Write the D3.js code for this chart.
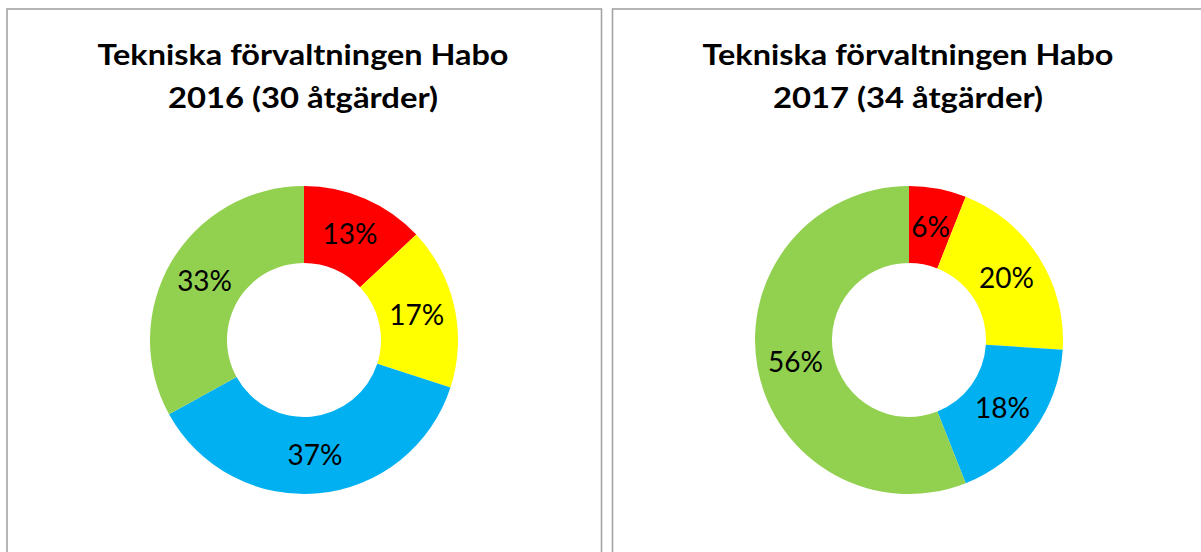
<!DOCTYPE html>
<html>
<head>
<meta charset="utf-8">
<script src="https://cdn.jsdelivr.net/npm/d3@7"></script>
<style>
  html, body { margin: 0; padding: 0; background: #fff; }
  svg { display: block; }
</style>
</head>
<body>
<svg id="chart" width="1201" height="552"></svg>
<script>
// ---- data ----
const categories = ["Röd", "Gul", "Blå", "Grön"];
const colors = ["#FF0000", "#FFFF00", "#00B0F0", "#92D050"];
const titles2016 = ["Tekniska förvaltningen Habo", "2016 (30 åtgärder)"];
const titles2017 = ["Tekniska förvaltningen Habo", "2017 (34 åtgärder)"];
const values2016 = [13, 17, 37, 33];   // percent
const values2017 = [6, 20, 18, 56];    // percent

const svg = d3.select("#chart");

const panels = [
  { x0: 7, x1: 601.5, titles: titles2016, values: values2016, cx: 304 },
  { x0: 612.5, x1: 1210, titles: titles2017, values: values2017, cx: 909 }
];
const titleWidths = [411, 270];

const color = d3.scaleOrdinal().domain(categories).range(colors);
const pie = d3.pie().value(d => d.v).sort(null);
const outerR = 154, innerR = 77, cy = 340;
const arc = d3.arc().innerRadius(innerR).outerRadius(outerR);
const labelArc = d3.arc().innerRadius((innerR + outerR) / 2).outerRadius((innerR + outerR) / 2);

panels.forEach(p => {
  const g = svg.append("g");
  g.append("rect")
    .attr("x", p.x0).attr("y", 9)
    .attr("width", p.x1 - p.x0).attr("height", 600)
    .attr("fill", "#fff")
    .attr("stroke", "#a3a3a3")
    .attr("stroke-width", 1.6);

  g.selectAll("text.title")
    .data(p.titles)
    .join("text")
    .attr("class", "title")
    .attr("x", p.cx - 1)
    .attr("y", (d, i) => 64.5 + i * 43)
    .attr("text-anchor", "middle")
    .attr("font-family", "Lato, 'Open Sans', sans-serif")
    .attr("font-weight", "bold")
    .attr("font-size", 28)
    .attr("textLength", (d, i) => titleWidths[i])
    .attr("lengthAdjust", "spacingAndGlyphs")
    .attr("fill", "#000")
    .text(d => d);

  const total = d3.sum(p.values);
  const data = p.values.map((v, i) => ({ k: categories[i], v }));
  const arcs = pie(data);
  const dg = g.append("g").attr("transform", `translate(${p.cx},${cy})`);
  dg.selectAll("path")
    .data(arcs)
    .join("path")
    .attr("d", arc)
    .attr("fill", d => color(d.data.k));
  dg.selectAll("text")
    .data(arcs)
    .join("text")
    .attr("transform", d => `translate(${labelArc.centroid(d)})`)
    .attr("text-anchor", "middle")
    .attr("dy", "0.36em")
    .attr("font-family", "Lato, 'Open Sans', sans-serif")
    .attr("font-size", 28)
    .attr("fill", "#000")
    .text(d => Math.round(d.data.v / total * 100) + "%");
});
</script>
</body>
</html>
